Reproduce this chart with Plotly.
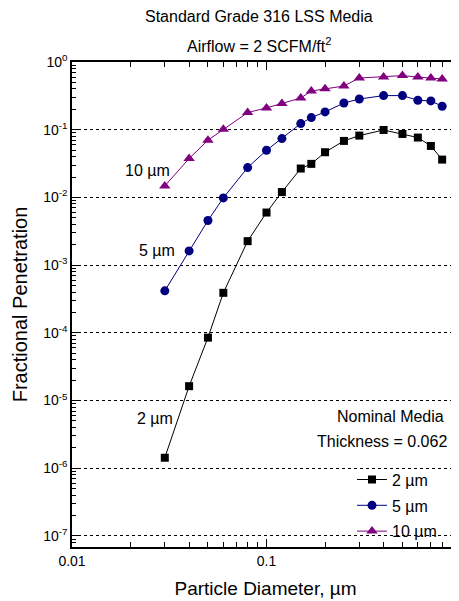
import plotly.graph_objects as go
import numpy as np

diam = [0.03, 0.04, 0.05, 0.06, 0.08, 0.1, 0.12, 0.15, 0.17, 0.2, 0.25, 0.3, 0.4, 0.5, 0.6, 0.7, 0.8]
pen_2um = [1.43e-6, 1.63e-5, 8.5e-5, 3.9e-4, 2.26e-3, 5.98e-3, 1.2e-2, 0.0267, 0.0313, 0.0465,
           0.0683, 0.0819, 0.0991, 0.0866, 0.0766, 0.0576, 0.0362]
pen_5um = [4.17e-4, 1.62e-3, 4.56e-3, 9.84e-3, 0.0276, 0.0497, 0.074, 0.123, 0.151, 0.183,
           0.248, 0.284, 0.319, 0.319, 0.272, 0.266, 0.222]
pen_10um = [0.0148, 0.0375, 0.0699, 0.1016, 0.179, 0.21, 0.243, 0.294, 0.373, 0.404,
            0.442, 0.58, 0.60, 0.63, 0.60, 0.58, 0.561]

y_tickvals = [1e0, 1e-1, 1e-2, 1e-3, 1e-4, 1e-5, 1e-6, 1e-7]
y_ticktext = ["10<sup>0</sup>", "10<sup>-1</sup>", "10<sup>-2</sup>", "10<sup>-3</sup>",
              "10<sup>-4</sup>", "10<sup>-5</sup>", "10<sup>-6</sup>", "10<sup>-7</sup>"]
x_tickvals = [0.01, 0.1]
x_ticktext = ["0.01", "0.1"]

FONT = "Liberation Sans, Arial, sans-serif"

fig = go.Figure()
series = [
    ("2 µm", pen_2um, "#000000", "square", 8),
    ("5 µm", pen_5um, "#000080", "circle", 9),
    ("10 µm", pen_10um, "#800080", "triangle-up", 10),
]
for name, vals, col, sym, sz in series:
    fig.add_trace(go.Scatter(
        x=diam, y=vals, name=name, mode="lines+markers",
        line=dict(color=col, width=1),
        marker=dict(symbol=sym, size=sz, color=col),
        legendgroup=name,
    ))

# the page body has an 8px margin, so the figure is sized to fit the 459x601 window
fig.update_layout(
    width=451, height=593,
    margin=dict(l=64, r=0, t=54, b=54),
    paper_bgcolor="white", plot_bgcolor="white",
    font=dict(family=FONT, size=14, color="black"),
    showlegend=True,
    legend=dict(x=0.7235, y=0.174, xanchor="left", yanchor="top",
                bgcolor="rgba(0,0,0,0)", font=dict(size=16),
                tracegroupgap=2, itemwidth=30),
)

fig.update_xaxes(
    type="log", range=[-2, -0.0103], automargin=False,
    tickvals=x_tickvals, ticktext=x_ticktext,
    ticks="inside", ticklen=8, tickcolor="black", tickwidth=1,
    minor=dict(ticks="inside", ticklen=5, tickcolor="black", dtick="D1"),
    showline=True, linecolor="black", linewidth=1.5, mirror="allticks",
    showgrid=False, zeroline=False,
    tickfont=dict(size=14),
    title=dict(text="Particle Diameter, µm", font=dict(size=19), standoff=14),
)
fig.update_yaxes(
    type="log", range=[-7.163, 0], automargin=False,
    tickvals=y_tickvals, ticktext=y_ticktext,
    ticks="inside", ticklen=7, tickcolor="black", tickwidth=1,
    minor=dict(ticks="inside", ticklen=4, tickcolor="black", dtick="D1"),
    showline=True, linecolor="black", linewidth=1.5,
    showgrid=True, gridcolor="black", griddash="dot", gridwidth=1,
    zeroline=False,
    tickfont=dict(size=14),
    title=dict(text="Fractional Penetration", font=dict(size=20), standoff=10),
)

annos = [
    dict(text="Standard Grade 316 LSS Media", y=17),
    dict(text="Airflow = 2 SCFM/ft<sup>2</sup>", y=45),
]
for a in annos:
    fig.add_annotation(text=a["text"], xref="paper", yref="paper", x=0.483,
                       y=1 + (62 - a["y"]) / 485, xanchor="center", yanchor="middle",
                       showarrow=False, font=dict(size=16))

labels = [("10 µm", -1.613, -1.599), ("5 µm", -1.564, -2.790), ("2 µm", -1.575, -5.259)]
for t, xv, yv in labels:
    fig.add_annotation(text=t, x=xv, y=yv, xref="x", yref="y",
                       showarrow=False, xanchor="center", yanchor="middle",
                       font=dict(size=16))

fig.add_annotation(text="Nominal Media", x=0.822, y=0.2687, xref="paper", yref="paper",
                   showarrow=False, xanchor="center", yanchor="middle", font=dict(size=16))
fig.add_annotation(text="Thickness = 0.062 in", x=0.628, y=0.2165, xref="paper", yref="paper",
                   showarrow=False, xanchor="left", yanchor="middle", font=dict(size=16))

fig.write_html("out.html")
